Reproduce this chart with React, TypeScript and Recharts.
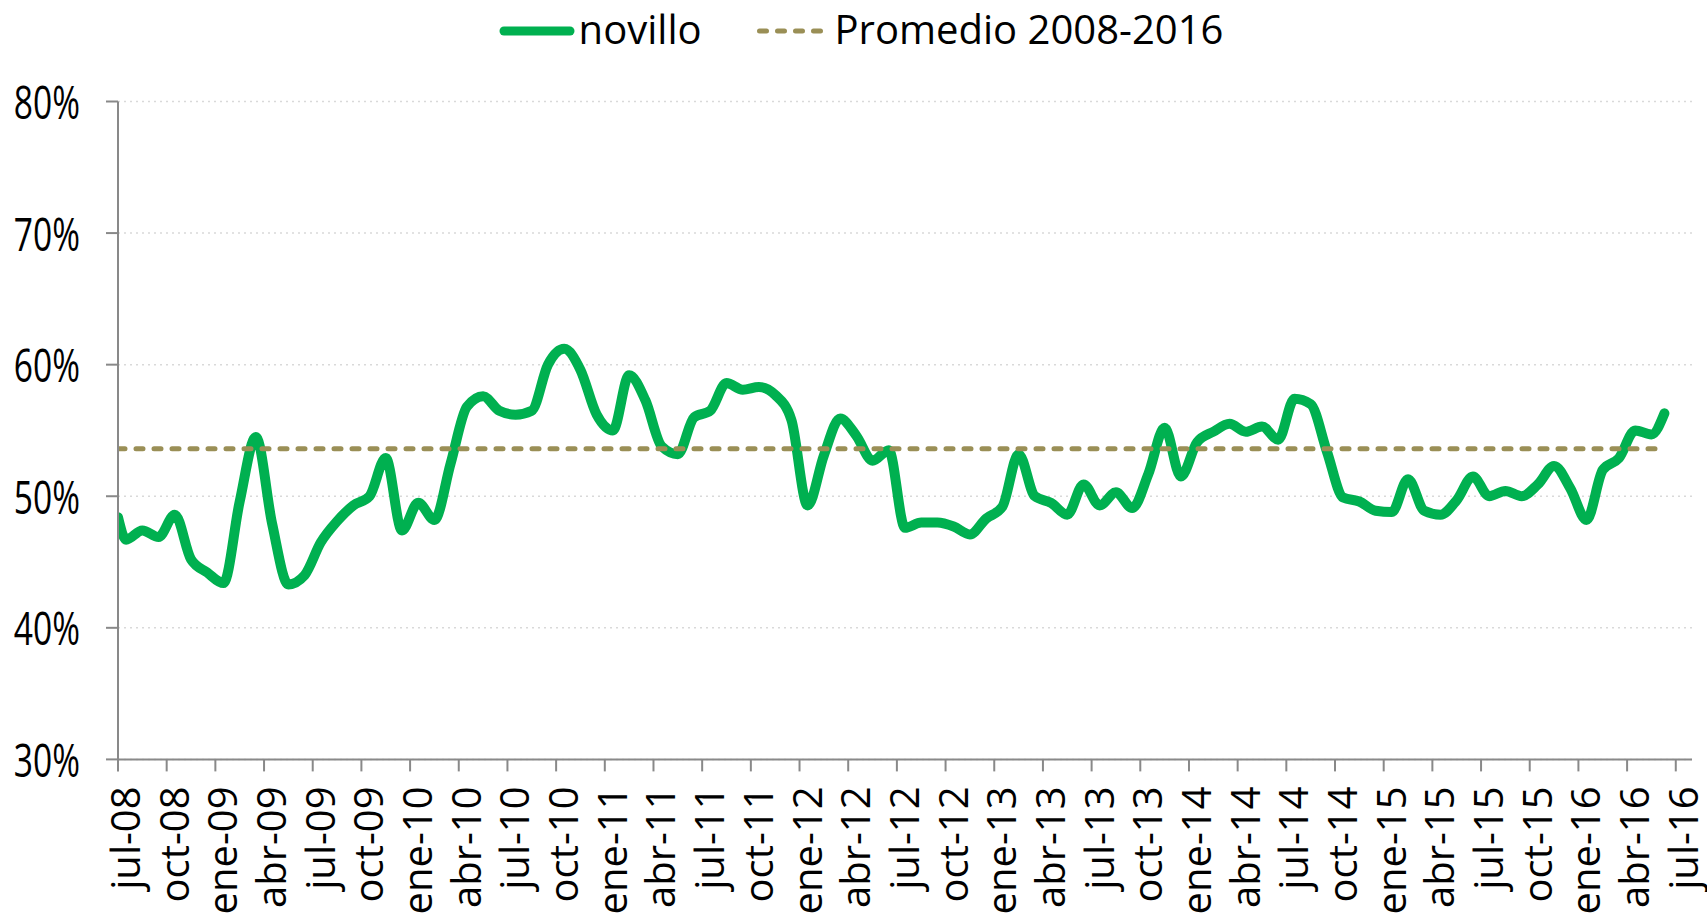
import React from 'react';
import { LineChart, Line, XAxis, YAxis, CartesianGrid, Legend } from 'recharts';

const FONT = '"Open Sans", "Noto Sans", sans-serif';

const tickLabels = [
  'jul-08', 'oct-08', 'ene-09', 'abr-09', 'jul-09', 'oct-09', 'ene-10', 'abr-10', 'jul-10', 'oct-10',
  'ene-11', 'abr-11', 'jul-11', 'oct-11', 'ene-12', 'abr-12', 'jul-12', 'oct-12', 'ene-13', 'abr-13',
  'jul-13', 'oct-13', 'ene-14', 'abr-14', 'jul-14', 'oct-14', 'ene-15', 'abr-15', 'jul-15', 'oct-15',
  'ene-16', 'abr-16', 'jul-16',
];
const tickPositions = [
  0, 3, 6, 9, 12, 15, 18, 21, 24, 27, 30, 33, 36, 39, 42, 45, 48, 51, 54, 57,
  60, 63, 66, 69, 72, 75, 78, 81, 84, 87, 90, 93, 96,
];

// months since jul-08
const posicionMes = [
  0, 0.5, 1.5, 2.5, 3.5, 4.5, 5.5, 6.5, 7.5, 8.5, 9.5,
  10.5, 11.5, 12.5, 13.5, 14.5, 15.5, 16.5, 17.5, 18.5, 19.5,
  20.5, 21.5, 22.5, 23.5, 24.5, 25.5, 26.5, 27.5, 28.5, 29.5,
  30.5, 31.5, 32.5, 33.5, 34.5, 35.5, 36.5, 37.5, 38.5, 39.5,
  40.5, 41.5, 42.5, 43.5, 44.5, 45.5, 46.5, 47.5, 48.5, 49.5,
  50.5, 51.5, 52.5, 53.5, 54.5, 55.5, 56.5, 57.5, 58.5, 59.5,
  60.5, 61.5, 62.5, 63.5, 64.5, 65.5, 66.5, 67.5, 68.5, 69.5,
  70.5, 71.5, 72.5, 73.5, 74.5, 75.5, 76.5, 77.5, 78.5, 79.5,
  80.5, 81.5, 82.5, 83.5, 84.5, 85.5, 86.5, 87.5, 88.5, 89.5,
  90.5, 91.5, 92.5, 93.5, 94.5, 95.3,
];

const novillo = [
  48.4, 46.7, 47.4, 46.9, 48.6, 45.2, 44.2, 43.4, 49.6, 54.5, 47.9,
  43.3, 44.0, 46.5, 48.1, 49.3, 50.0, 52.9, 47.4, 49.5, 48.2,
  52.5, 56.8, 57.6, 56.5, 56.2, 56.5, 60.0, 61.2, 59.6, 56.2,
  55.0, 59.2, 57.3, 53.8, 53.2, 56.0, 56.5, 58.6, 58.1, 58.3,
  57.7, 55.8, 49.3, 53.1, 55.9, 54.6, 52.7, 53.5, 47.6, 48.0,
  48.0, 47.7, 47.1, 48.3, 49.2, 53.2, 50.0, 49.5, 48.6, 50.9,
  49.3, 50.3, 49.1, 51.7, 55.2, 51.5, 54.1, 54.9, 55.5, 54.9,
  55.3, 54.3, 57.4, 57.0, 53.4, 49.9, 49.6, 48.9, 48.8, 51.3,
  48.9, 48.6, 49.7, 51.5, 50.0, 50.4, 50.0, 50.9, 52.3, 50.6,
  48.2, 52.0, 52.9, 55.0, 54.7, 56.3,
];

const promedio20082016 = 53.6;

const yTicks = [30, 40, 50, 60, 70, 80];

const data = posicionMes.map((m, i) => ({
  mes: m,
  novillo: novillo[i],
  promedio: promedio20082016,
}));

const XTick = (props: any) => {
  const { x, y, payload } = props;
  const idx = tickPositions.indexOf(payload.value);
  return (
    <text
      transform={`translate(${x + 22},${y + 15}) rotate(-90)`}
      textAnchor="end"
      fontSize={40}
      fontFamily={FONT}
      fill="#000"
    >
      {tickLabels[idx]}
    </text>
  );
};

const YTick = (props: any) => {
  const { x, y, payload } = props;
  return (
    <g transform={`translate(${x - 24},${y + 1})`}>
      <text
        transform="scale(0.73,1)"
        textAnchor="end"
        dy="0.36em"
        fontSize={46}
        fontFamily={FONT}
        fill="#000"
      >
        {payload.value}%
      </text>
    </g>
  );
};

const LegendContent = () => (
  <div
    style={{
      display: 'flex',
      alignItems: 'center',
      justifyContent: 'center',
      width: 1707,
      paddingLeft: 15,
      boxSizing: 'border-box',
      fontFamily: FONT,
      fontSize: 40,
      lineHeight: '40px',
      color: '#000',
    }}
  >
    <svg width={76} height={12} style={{ marginTop: 4 }}>
      <line x1={5} y1={6} x2={71} y2={6} stroke="#00B050" strokeWidth={9} strokeLinecap="round" />
    </svg>
    <span style={{ marginLeft: 4 }}>novillo</span>
    <svg width={66} height={8} style={{ marginLeft: 55, marginTop: 4 }}>
      <line
        x1={2.5}
        y1={4}
        x2={63.5}
        y2={4}
        stroke="#9A8F56"
        strokeWidth={5}
        strokeDasharray="7 11"
        strokeLinecap="round"
      />
    </svg>
    <span style={{ marginLeft: 12 }}>Promedio 2008-2016</span>
  </div>
);

export default function App() {
  return (
    <div style={{ position: 'absolute', left: 0, top: 0, width: 1707, height: 917, background: '#fff' }}>
      <LineChart
        width={1707}
        height={917}
        data={data}
        margin={{ top: 101.5, right: 15, bottom: 0, left: 0 }}
      >
        <CartesianGrid horizontal vertical={false} stroke="#D9D9D9" strokeDasharray="2 4" strokeWidth={1.5} />
        <XAxis
          dataKey="mes"
          type="number"
          domain={[0, 97]}
          ticks={tickPositions}
          interval={0}
          allowDataOverflow
          height={157.6}
          tickSize={12}
          tickMargin={0}
          axisLine={{ stroke: '#898989', strokeWidth: 2 }}
          tickLine={{ stroke: '#898989', strokeWidth: 2 }}
          tick={(p: any) => <XTick {...p} />}
        />
        <YAxis
          type="number"
          domain={[30, 80]}
          ticks={yTicks}
          interval={0}
          allowDataOverflow
          width={118}
          tickSize={12}
          tickMargin={2}
          axisLine={{ stroke: '#898989', strokeWidth: 2 }}
          tickLine={{ stroke: '#898989', strokeWidth: 2 }}
          tick={(p: any) => <YTick {...p} />}
        />
        <Legend
          verticalAlign="middle"
          content={() => <LegendContent />}
          wrapperStyle={{ top: 9, left: 0, width: 1707 }}
        />
        <Line
          type="monotone"
          dataKey="novillo"
          name="novillo"
          stroke="#00B050"
          strokeWidth={10}
          strokeLinecap="round"
          strokeLinejoin="round"
          dot={false}
          activeDot={false}
          isAnimationActive={false}
        />
        <Line
          type="linear"
          dataKey="promedio"
          name="Promedio 2008-2016"
          stroke="#9A8F56"
          strokeWidth={5}
          strokeDasharray="7 11"
          strokeLinecap="round"
          dot={false}
          activeDot={false}
          isAnimationActive={false}
        />
      </LineChart>
    </div>
  );
}
